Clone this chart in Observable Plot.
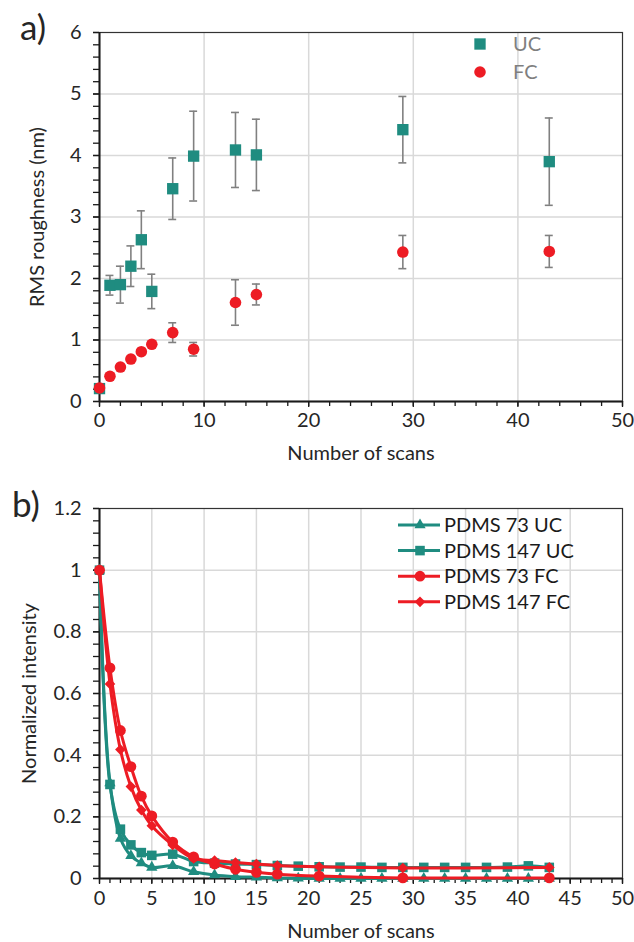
<!DOCTYPE html>
<html><head><meta charset="utf-8">
<script src="https://cdn.jsdelivr.net/npm/d3@7"></script>
<script src="https://cdn.jsdelivr.net/npm/@observablehq/plot@0.6"></script>
<style>
body{margin:0;background:#fff;}
#wrap{position:relative;width:634px;height:942px;font-family:Lato,"Open Sans",sans-serif;}
#wrap>div.p{position:absolute;left:0;}
#pa{top:0}#pb{top:470px}
.tag{position:absolute;font-size:35px;color:#262626;font-family:Lato,sans-serif;}
#ov{position:absolute;left:0;top:0;pointer-events:none;}
</style></head><body>
<div id="wrap">
<div class="p" id="pa"></div>
<div class="p" id="pb"></div>
<div class="tag" style="left:20px;top:5px">a)</div>
<div class="tag" style="left:12px;top:482px">b)</div>
<svg id="ov" width="634" height="942"></svg>
</div>
<script>
// ---- Panel a data ----
const scansA = [0,1,2,3,4,5,7,9,13,15,29,43];
const ucRms  = [0.21,1.89,1.90,2.20,2.63,1.79,3.46,3.99,4.09,4.01,4.42,3.90];
const ucErr  = [0,0.16,0.30,0.33,0.47,0.28,0.50,0.73,0.61,0.58,0.54,0.71];
const fcRms  = [0.22,0.41,0.56,0.69,0.81,0.93,1.12,0.85,1.61,1.74,2.43,2.44];
const fcErr  = [0,0,0,0,0,0,0.16,0.11,0.37,0.17,0.27,0.26];
const xTicksA = [0,10,20,30,40,50];
const yTicksA = [0,1,2,3,4,5,6];

// ---- Panel b data ----
const scansUC = [0,1,2,3,4,5,7,9,11,13,15,17,19,21,23,25,27,29,31,33,35,37,39,41,43];
const pdms73UC  = [1.0,0.31,0.13,0.074,0.05,0.036,0.041,0.022,0.011,0.006,0.004,0.002,0.001,0,0,0,0,0,0,0,0,0,0,0,0];
const pdms147UC = [1.0,0.305,0.16,0.109,0.084,0.075,0.079,0.055,0.05,0.047,0.045,0.042,0.04,0.038,0.037,0.037,0.036,0.036,0.036,0.036,0.036,0.036,0.037,0.041,0.036];
const scansFC = [0,1,2,3,4,5,7,9,11,13,15,17,21,29,43];
const pdms73FC  = [1.0,0.683,0.48,0.363,0.267,0.203,0.118,0.07,0.047,0.03,0.02,0.014,0.008,0.002,0.002];
const pdms147FC = [1.0,0.631,0.418,0.298,0.222,0.171,0.109,0.065,0.058,0.052,0.047,0.042,0.038,0.034,0.036];
const xTicksB = [0,5,10,15,20,25,30,35,40,45,50];
const yTicksB = [0,0.2,0.4,0.6,0.8,1.0,1.2];

const TEAL = "#1f8c80", RED = "#ed1c24", GRID = "#d9d9d9", ERR = "#808080", AX = "#1a1a1a";

const ucA = scansA.map((x,i)=>({x, y:ucRms[i], e:ucErr[i]}));
const fcA = scansA.map((x,i)=>({x, y:fcRms[i], e:fcErr[i]}));
const errA = [...ucA, ...fcA].filter(d=>d.e>0);

const style = {fontFamily:"Lato, 'Open Sans', sans-serif", fontSize:"19px", color:"#262626", background:"#fff"};

const plotA = Plot.plot({
  width:634, height:470, marginTop:32, marginBottom:69, marginLeft:99, marginRight:12,
  style,
  x:{domain:[0,50]}, y:{domain:[0,6]},
  marks:[
    Plot.gridX({ticks:xTicksA.slice(1,-1), stroke:GRID, strokeOpacity:1, strokeWidth:1.5}),
    Plot.gridY({ticks:yTicksA.slice(1,-1), stroke:GRID, strokeOpacity:1, strokeWidth:1.5}),
    Plot.frame({stroke:"#333", strokeWidth:1.2}),
    Plot.axisX({ticks:d3.range(0,51,2), tickSize:5, tickFormat:()=>"", label:null, stroke:AX, strokeWidth:1.3}),
    Plot.axisY({ticks:d3.range(0,6.01,0.2), tickSize:6, tickFormat:()=>"", label:null, stroke:AX, strokeWidth:1.3}),
    Plot.axisX({ticks:xTicksA, tickSize:6, tickPadding:5, tickFormat:d=>String(d), label:"Number of scans", fontSize:20, labelAnchor:"center", labelOffset:58, labelArrow:"none", stroke:AX, strokeWidth:1.3}),
    Plot.axisY({ticks:yTicksA, tickSize:6, tickPadding:12, tickFormat:d=>String(d), label:"RMS roughness (nm)", fontSize:20, labelAnchor:"center", labelOffset:70, labelArrow:"none", stroke:AX, strokeWidth:1.3}),
    Plot.ruleX([0], {stroke:AX, strokeWidth:2}),
    Plot.ruleY([0], {stroke:AX, strokeWidth:2}),
    Plot.ruleX(errA, {x:"x", y1:d=>d.y-d.e, y2:d=>d.y+d.e, stroke:ERR, strokeWidth:1.6}),
    Plot.ruleY(errA, {y:d=>d.y+d.e, x1:d=>d.x-0.38, x2:d=>d.x+0.38, stroke:ERR, strokeWidth:1.6}),
    Plot.ruleY(errA, {y:d=>d.y-d.e, x1:d=>d.x-0.38, x2:d=>d.x+0.38, stroke:ERR, strokeWidth:1.6}),
    Plot.dot(ucA, {x:"x", y:"y", symbol:"square", r:6.4, fill:TEAL, stroke:null}),
    Plot.dot(fcA, {x:"x", y:"y", symbol:"circle", r:5.8, fill:RED, stroke:null})
  ]
});
document.getElementById("pa").appendChild(plotA);

const seriesB = [
  {name:"PDMS 73 UC",  xs:scansUC, ys:pdms73UC,  color:TEAL, symbol:"triangle", r:4.2},
  {name:"PDMS 147 UC", xs:scansUC, ys:pdms147UC, color:TEAL, symbol:"square",   r:5.4},
  {name:"PDMS 73 FC",  xs:scansFC, ys:pdms73FC,  color:RED,  symbol:"circle",   r:5.4},
  {name:"PDMS 147 FC", xs:scansFC, ys:pdms147FC, color:RED,  symbol:"diamond2", r:4.8}
];
const marksB = [];
for (const s of seriesB) {
  const data = s.xs.map((x,i)=>({x, y:s.ys[i]}));
  marksB.push(Plot.line(data, {x:"x", y:"y", stroke:s.color, strokeWidth:3, curve:"catmull-rom"}));
  marksB.push(Plot.dot(data, {x:"x", y:"y", symbol:s.symbol, r:s.r, fill:s.color, stroke:null}));
}

const plotB = Plot.plot({
  width:634, height:472, marginTop:38, marginBottom:64, marginLeft:99, marginRight:12,
  style,
  x:{domain:[0,50]}, y:{domain:[0,1.2]},
  marks:[
    Plot.gridX({ticks:xTicksB.slice(1,-1), stroke:GRID, strokeOpacity:1, strokeWidth:1.5}),
    Plot.gridY({ticks:yTicksB.slice(1,-1), stroke:GRID, strokeOpacity:1, strokeWidth:1.5}),
    Plot.frame({stroke:"#333", strokeWidth:1.2}),
    Plot.axisX({ticks:d3.range(0,51,1), tickSize:5, tickFormat:()=>"", label:null, stroke:AX, strokeWidth:1.3}),
    Plot.axisY({ticks:d3.range(0,1.201,0.04), tickSize:6, tickFormat:()=>"", label:null, stroke:AX, strokeWidth:1.3}),
    Plot.axisX({ticks:xTicksB, tickSize:6, tickPadding:6, tickFormat:d=>String(d), label:"Number of scans", fontSize:20, labelAnchor:"center", labelOffset:59, labelArrow:"none", stroke:AX, strokeWidth:1.3}),
    Plot.axisY({ticks:yTicksB, tickSize:6, tickPadding:12, tickFormat:d=>String(+d.toFixed(1)), label:"Normalized intensity", fontSize:20, labelAnchor:"center", labelOffset:78, labelArrow:"none", stroke:AX, strokeWidth:1.3}),
    Plot.ruleX([0], {stroke:AX, strokeWidth:2}),
    Plot.ruleY([0], {stroke:AX, strokeWidth:2}),
    ...marksB
  ]
});
document.getElementById("pb").appendChild(plotB);

// ---- Legends overlay ----
const ov = d3.select("#ov");
const symMap = {square:d3.symbolSquare, circle:d3.symbolCircle, triangle:d3.symbolTriangle, diamond2:d3.symbolDiamond2};
const symPath = (name, r) => d3.symbol(symMap[name], Math.PI*r*r)();
const legA = [{name:"UC", color:TEAL, symbol:"square", r:6.4}, {name:"FC", color:RED, symbol:"circle", r:5.8}];
legA.forEach((d,i)=>{
  const g = ov.append("g").attr("transform", `translate(480,${44+i*28})`);
  g.append("path").attr("d", symPath(d.symbol,d.r)).attr("fill", d.color);
  g.append("text").attr("x",33).attr("dy","0.36em").attr("fill","#7f7f7f")
   .style("font-family","Lato, sans-serif").style("font-size","20px").text(d.name);
});
seriesB.forEach((d,i)=>{
  const g = ov.append("g").attr("transform", `translate(420,${525+i*25.6})`);
  g.append("line").attr("x1",-22).attr("x2",20).attr("stroke",d.color).attr("stroke-width",3);
  g.append("path").attr("d", symPath(d.symbol,d.r)).attr("fill", d.color);
  g.append("text").attr("x",24).attr("dy","0.36em").attr("fill","#1a1a1a")
   .style("font-family","Lato, sans-serif").style("font-size","20px").text(d.name);
});
</script>
</body></html>
